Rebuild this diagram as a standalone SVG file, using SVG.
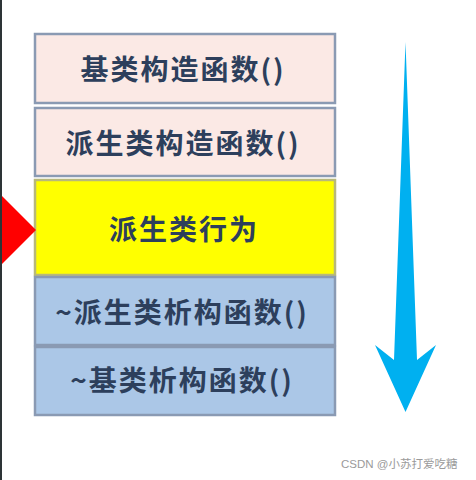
<svg xmlns="http://www.w3.org/2000/svg" width="476" height="480" viewBox="0 0 476 480">
<style>
.box{stroke:#8a9ab3;stroke-width:2.5}
.pink{fill:#fbe9e5}
.yel{fill:#ffff00;stroke:#b8b87a}
.blue{fill:#abc7e7}
.t{font-family:"Noto Sans CJK SC","Noto Sans CJK TC",sans-serif;font-weight:bold;font-size:28px;fill:#2d3f5c;text-anchor:middle;dominant-baseline:central;letter-spacing:2px}
.wm{font-family:"Liberation Sans","Noto Sans CJK SC",sans-serif;font-size:11.5px;fill:#9a9a9a}
</style>
<rect width="476" height="480" fill="#ffffff"/>
<rect x="0" y="0" width="2" height="480" fill="#2d3436"/>
<g id="node-base-ctor">
<rect class="box pink" x="35" y="34" width="300" height="69"/>
<text class="t" x="183" y="68">基类构造函数()</text>
</g>
<g id="node-derived-ctor">
<rect class="box pink" x="35" y="108" width="300" height="68"/>
<text class="t" x="183" y="142">派生类构造函数()</text>
</g>
<g id="node-derived-behavior">
<rect class="box yel" x="35" y="180" width="300" height="95"/>
<text class="t" x="184" y="228">派生类行为</text>
</g>
<g id="node-derived-dtor">
<rect class="box blue" x="35" y="277" width="300" height="68"/>
<text class="t" x="182" y="311">~派生类析构函数()</text>
</g>
<g id="node-base-dtor">
<rect class="box blue" x="35" y="347" width="300" height="68"/>
<text class="t" x="182" y="379">~基类析构函数()</text>
</g>
<g id="connectors">
<polygon points="2,196 36,230 2,264" fill="#ff0000"/>
<polygon points="405.5,42 417,360 436,345 405.5,412 375,345 394,360" fill="#00b0f0"/>
</g>
<text class="wm" x="341" y="468">CSDN @小苏打爱吃糖</text>
</svg>
